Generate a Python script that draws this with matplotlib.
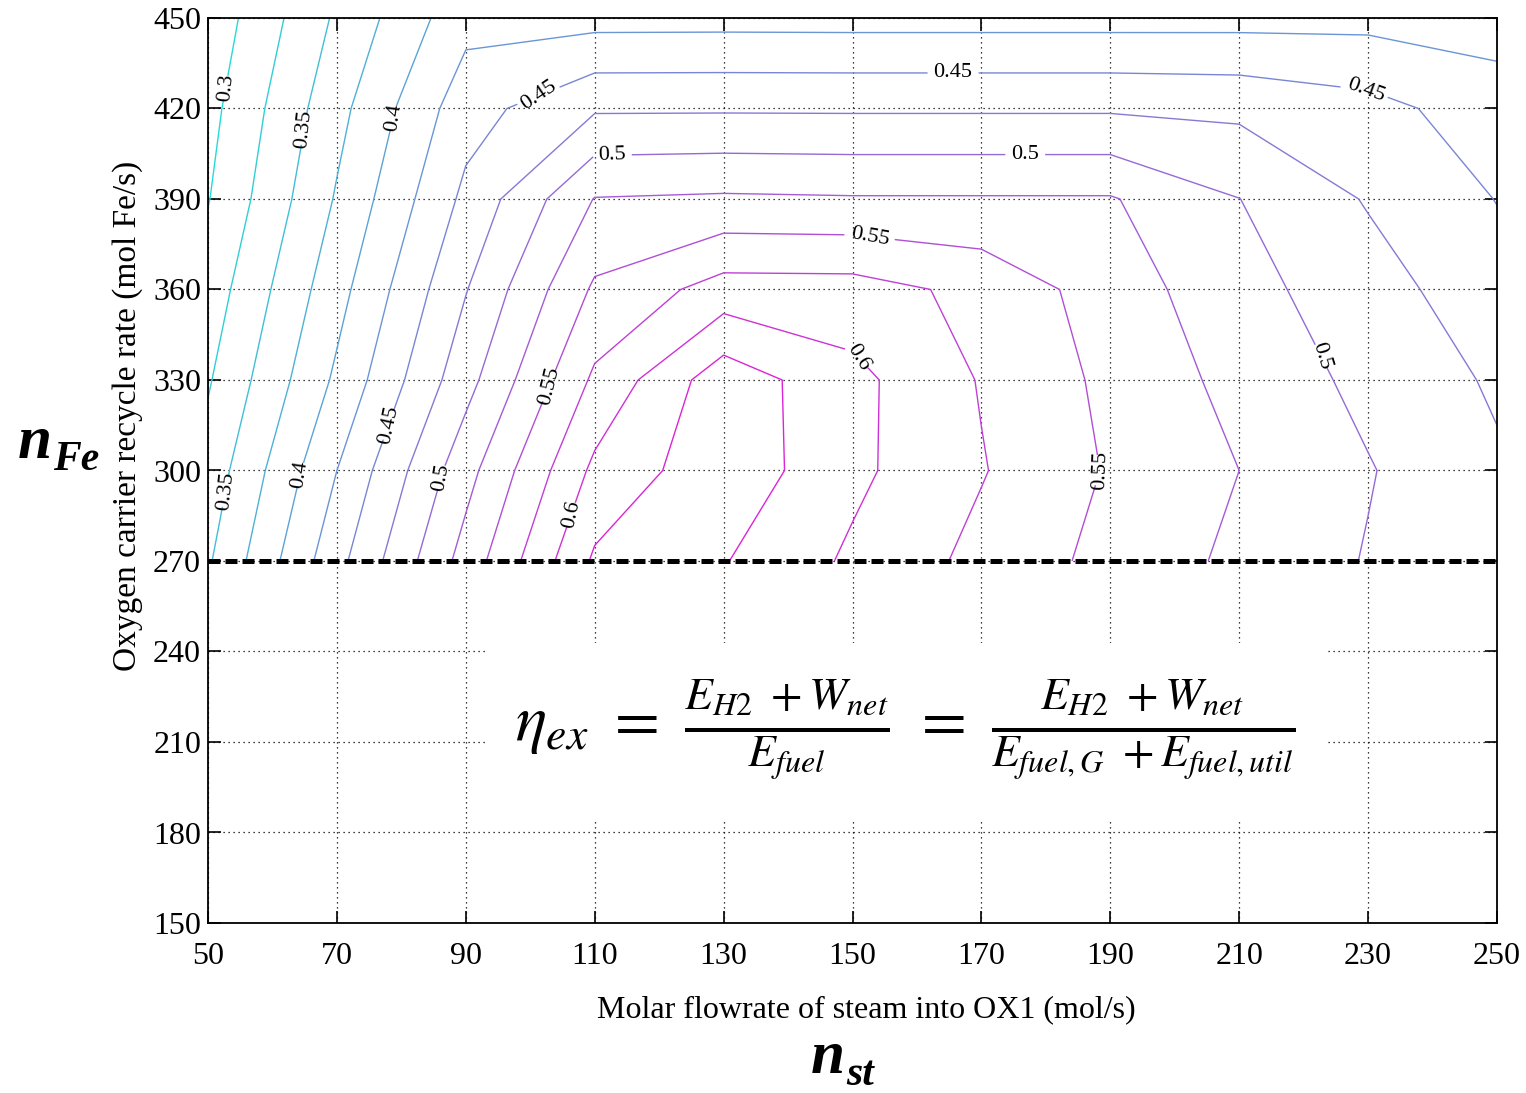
import numpy as np
import matplotlib
matplotlib.use("Agg")
import matplotlib.pyplot as plt
from matplotlib.patches import Rectangle

# ── data ──────────────────────────────────────────────────────────────
# steam into OX1 (mol/s) and oxygen carrier recycle (mol Fe/s) grid
n_st = [50, 70, 90, 110, 130, 150, 170, 190, 210, 230, 250]
n_fe = [270, 300, 330, 360, 390, 420, 450]

# exergy efficiency, one list per n_fe row
eta_270 = [0.347, 0.442, 0.535, 0.629, 0.6264, 0.5957, 0.568, 0.5424, 0.5195, 0.4984, 0.479]
eta_300 = [0.335, 0.425, 0.516, 0.6057, 0.6423, 0.6057, 0.5766, 0.5477, 0.525, 0.5016, 0.4785]
eta_330 = [0.3225, 0.4047, 0.491, 0.5797, 0.640, 0.607, 0.5733, 0.5443, 0.5172, 0.4936, 0.4715]
eta_360 = [0.311, 0.391, 0.4738, 0.554, 0.5855, 0.585, 0.5685, 0.538, 0.5086, 0.4855, 0.4595]
eta_390 = [0.2988, 0.3775, 0.456, 0.526, 0.5285, 0.527, 0.527, 0.527, 0.5003, 0.473, 0.4493]
eta_420 = [0.2919, 0.367, 0.4397, 0.472, 0.4722, 0.472, 0.472, 0.472, 0.4697, 0.4583, 0.437]
eta_450 = [0.2833, 0.354, 0.417, 0.416, 0.4163, 0.416, 0.416, 0.416, 0.4164, 0.4173, 0.414]

# labelled levels and the unlabelled ones in between
label_levels = [0.3, 0.35, 0.4, 0.45, 0.5, 0.55, 0.6]
plain_levels = [0.325, 0.375, 0.425, 0.475, 0.525, 0.575, 0.625]

x_ticks = [50, 70, 90, 110, 130, 150, 170, 190, 210, 230, 250]
y_ticks = [150, 180, 210, 240, 270, 300, 330, 360, 390, 420, 450]
limit_fe = 270   # dashed line: minimum recycle rate

# where the inline labels sit (data coords)
label_spots = [(53.7, 426.8), (65.8, 412.9), (79.8, 416.8), (101.5, 423.8),
               (165.6, 430.4), (229.5, 425.5), (112.7, 402.9), (176.8, 403.6),
               (152.4, 375.7), (149.6, 336.6), (221.9, 337.6), (189.2, 300.2),
               (53.3, 292.9), (65.0, 298.5), (78.7, 315.0), (87.1, 297.5),
               (103.5, 327.7), (106.9, 285.3)]

plt.rcParams["font.family"] = ["Liberation Serif", "DejaVu Serif"]
plt.rcParams["mathtext.fontset"] = "stix"

W, H = 1526, 1093
fig = plt.figure(figsize=(W / 100, H / 100), dpi=100)
ax = fig.add_axes([208 / W, 1 - 923 / H, (1497 - 208) / W, (923 - 18) / H])

X, Y = np.meshgrid(n_st, n_fe)
Z = np.array([eta_270, eta_300, eta_330, eta_360, eta_390, eta_420, eta_450])

cmap = plt.get_cmap("cool")
lo, hi = 0.3, 0.625


def level_colors(lvls):
    # matlab "cool", washed out a little like the thin lines in the original
    out = []
    for lv in lvls:
        r, g, b, _ = cmap((lv - lo) / (hi - lo))
        out.append((0.72 * r + 0.14, 0.72 * g + 0.14, 0.72 * b + 0.12))
    return out


ax.contour(X, Y, Z, levels=plain_levels, colors=level_colors(plain_levels),
           linewidths=1.0, zorder=2)
cs = ax.contour(X, Y, Z, levels=label_levels, colors=level_colors(label_levels),
                linewidths=1.0, zorder=2)
ax.clabel(cs, manual=label_spots, inline=True, inline_spacing=6,
          fontsize=16, fmt="%g", colors="black")

ax.axhline(limit_fe, color="black", lw=3.6, ls=(0, (2.4, 1.0)), zorder=4)

ax.set_xlim(50, 250)
ax.set_ylim(150, 450)
ax.set_xticks(x_ticks)
ax.set_yticks(y_ticks)
ax.tick_params(direction="in", top=True, right=True, length=9, width=1.2,
               labelsize=23)
ax.tick_params(axis="x", pad=14)
ax.tick_params(axis="y", pad=5)
for s in ax.spines.values():
    s.set_linewidth(1.3)
ax.set_axisbelow(True)
ax.grid(True, color="black", ls=(0, (1, 3)), lw=0.9)

# white panel behind the formula
ax.add_patch(Rectangle((93.4, 183.5), 129.9, 59.3, facecolor="white",
                       edgecolor="none", zorder=1.5))

formula = (r"$\eta_{ex}\ =\ \frac{E_{H2}\ +W_{net}}{E_{fuel}}\ =\ "
           r"\frac{E_{H2}\ +W_{net}}{E_{fuel,G}\ +E_{fuel,util}}$")
fig.text(905 / W, 1 - 730 / H, formula, fontsize=47, ha="center", va="center")

fig.text(128 / W, 1 - 416 / H, "Oxygen carrier recycle rate (mol Fe/s)",
         rotation=90, fontsize=24, ha="center", va="center")
fig.text(866 / W, 1 - 1010 / H, "Molar flowrate of steam into OX1 (mol/s)",
         fontsize=23, ha="center", va="center")

big = dict(fontweight="bold", style="italic", color="black")
fig.text(18 / W, 1 - 458 / H, "n", fontsize=44, ha="left", va="baseline", **big)
fig.text(53 / W, 1 - 470 / H, "Fe", fontsize=30, ha="left", va="baseline", **big)
fig.text(811 / W, 1 - 1073 / H, "n", fontsize=44, ha="left", va="baseline", **big)
fig.text(846 / W, 1 - 1085 / H, "st", fontsize=30, ha="left", va="baseline", **big)

fig.savefig("out.png", dpi=100, facecolor="white")
